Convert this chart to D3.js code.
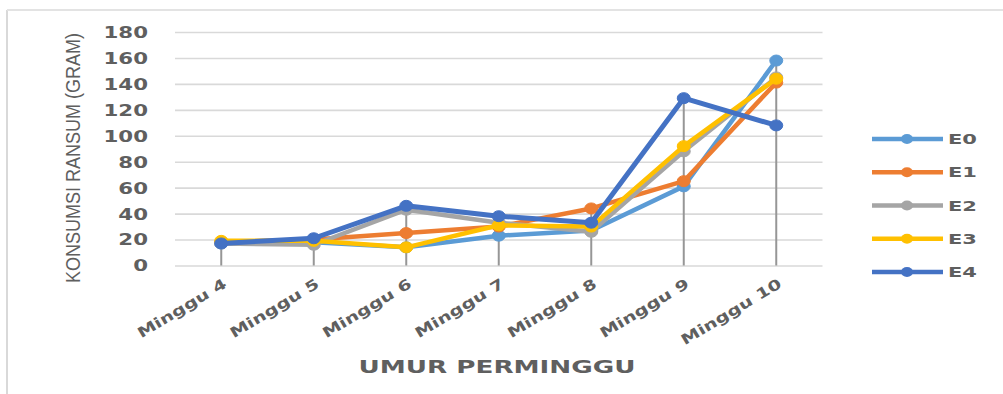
<!DOCTYPE html>
<html><head><meta charset="utf-8">
<script src="https://cdn.jsdelivr.net/npm/d3@7"></script>
<style>body{margin:0;background:#fff}svg{display:block}</style>
</head><body>
<svg id="c" width="1003" height="394"></svg>
<script>
const categories = ["Minggu 4","Minggu 5","Minggu 6","Minggu 7","Minggu 8","Minggu 9","Minggu 10"];
const seriesNames = ["E0","E1","E2","E3","E4"];
const E0 = [17, 18, 14, 23, 27, 61, 158];
const E1 = [18, 20, 25, 30, 44, 65, 141];
const E2 = [17, 16, 43, 33, 26, 88, 145];
const E3 = [19, 19, 14, 31, 30, 92, 144];
const E4 = [17, 21, 46, 38, 33, 129, 108];
const yTicks = [0,20,40,60,80,100,120,140,160,180];
const colors = ["#5B9BD5","#ED7D31","#A5A5A5","#FFC000","#4472C4"];
const xTitle = "UMUR PERMINGGU";
const yTitle = "KONSUMSI RANSUM (GRAM)";

const values = [E0,E1,E2,E3,E4];
const svg = d3.select("#c");
const txt = "#5f5f5f";
const STRETCH = 1.42;

// chart border
svg.append("line").attr("x1",7).attr("x2",7).attr("y1",10).attr("y2",394).attr("stroke","#d9d9d9").attr("stroke-width",2);
svg.append("line").attr("x1",7).attr("x2",1003).attr("y1",10).attr("y2",10).attr("stroke","#e3e3e3").attr("stroke-width",2);

const x = d3.scalePoint().domain(categories).range([175,822.5]).padding(0.5);
const y = d3.scaleLinear().domain([0,180]).range([265.5,32]);

function stretch(sel, f){
  sel.each(function(){
    const w = this.getComputedTextLength();
    d3.select(this).attr("textLength", w*f).attr("lengthAdjust","spacingAndGlyphs");
  });
}

// gridlines
const yAxis = d3.axisLeft(y).tickValues(yTicks).tickSize(-(822.5-175)).tickPadding(27).tickFormat(d3.format("d"));
const gy = svg.append("g").attr("transform","translate(175,0)").call(yAxis);
gy.select(".domain").remove();
gy.selectAll(".tick line").attr("stroke","#d9d9d9").attr("stroke-width",1.6);
gy.selectAll(".tick text").attr("fill",txt).attr("font-family","DejaVu Sans, Verdana, sans-serif")
  .attr("font-weight","bold").attr("font-size",15).attr("dy","0.36em").call(stretch, STRETCH);

// x axis labels
const xAxis = d3.axisBottom(x).tickSize(0).tickPadding(0);
const gx = svg.append("g").attr("transform","translate(0,265.5)").call(xAxis);
gx.select(".domain").remove();
gx.selectAll(".tick text")
  .attr("fill",txt).attr("font-family","DejaVu Sans, Verdana, sans-serif").attr("font-weight","bold")
  .attr("font-size",14.5).attr("text-anchor","end").attr("dy",0).attr("y",0)
  .attr("transform","translate(6,21) rotate(-31)")
  .call(stretch, 1.33);

// drop lines
categories.forEach((c,i)=>{
  const m = d3.max(values, v=>v[i]);
  svg.append("line").attr("x1",x(c)).attr("x2",x(c)).attr("y1",y(m)).attr("y2",y(0))
    .attr("stroke","#969696").attr("stroke-width",2);
});

// series
const line = d3.line().x((d,i)=>x(categories[i])).y(d=>y(d));
values.forEach((v,k)=>{
  const g = svg.append("g");
  g.append("path").datum(v).attr("d",line).attr("fill","none").attr("stroke",colors[k])
    .attr("stroke-width", k===4?5:4.5).attr("stroke-linejoin","round");
  g.selectAll("ellipse").data(v).enter().append("ellipse")
    .attr("cx",(d,i)=>x(categories[i])).attr("cy",d=>y(d)).attr("rx",6.5).attr("ry",5.5)
    .attr("fill",colors[k]).attr("stroke",colors[k]).attr("stroke-width",1);
});

// legend
const ly = d3.scalePoint().domain(seriesNames).range([139,272]);
seriesNames.forEach((n,k)=>{
  const yy = ly(n);
  svg.append("line").attr("x1",872).attr("x2",943).attr("y1",yy).attr("y2",yy).attr("stroke",colors[k]).attr("stroke-width",4.5);
  svg.append("ellipse").attr("cx",907).attr("cy",yy).attr("rx",6).attr("ry",5).attr("fill",colors[k]);
  svg.append("text").attr("x",948).attr("y",yy).attr("dy","0.36em").text(n)
    .attr("fill",txt).attr("font-family","DejaVu Sans, Verdana, sans-serif").attr("font-weight","bold").attr("font-size",14)
    .call(stretch, 1.5);
});

// axis titles
svg.append("text").attr("x",497).attr("y",373).attr("text-anchor","middle").text(xTitle)
  .attr("fill",txt).attr("font-family","DejaVu Sans, Verdana, sans-serif").attr("font-weight","bold").attr("font-size",17)
  .attr("textLength",277).attr("lengthAdjust","spacingAndGlyphs");
svg.append("text").attr("transform","translate(80,158) rotate(-90)").attr("text-anchor","middle").text(yTitle)
  .attr("fill",txt).attr("font-family","'Liberation Sans Narrow', 'Liberation Sans', sans-serif").attr("font-size",20)
  .attr("textLength",250).attr("lengthAdjust","spacingAndGlyphs");
</script>
</body></html>
